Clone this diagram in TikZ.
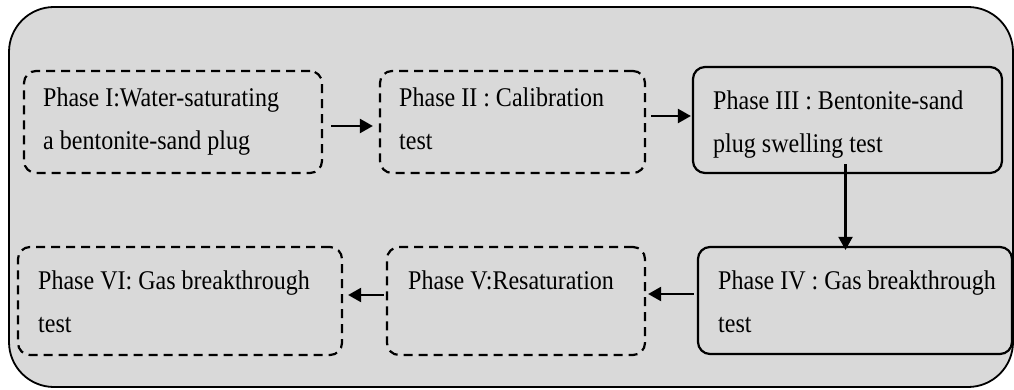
\documentclass[tikz,border=0pt]{standalone}
\usepackage{fontspec}
\setmainfont{Liberation Serif}
\newfontfamily\condserif[FakeStretch=0.89]{Liberation Serif}
\usetikzlibrary{arrows.meta}
\definecolor{bggray}{RGB}{217,217,217}
\tikzset{
  phasebox/.style={draw=black, line width=2.2pt, rounded corners=12pt, inner sep=0pt},
  dashbox/.style={phasebox, dash pattern=on 9pt off 6pt},
  phasetext/.style={anchor=north west, inner sep=0pt, align=left, font=\condserif\fontsize{27}{43}\selectfont, text=black},
  flow/.style={line width=2.2pt, -{Triangle[length=13pt,width=14pt]}}
}
\begin{document}
\begin{tikzpicture}[x=1pt,y=-1pt]
\useasboundingbox (0,0) rectangle (1014,390);
\draw[fill=bggray, line width=1.8pt, rounded corners=45pt] (9,7) rectangle (1013,387);
% boxes
\node[dashbox, minimum width=298pt, minimum height=102pt] (b1) at (173,122) {};
\node[dashbox, minimum width=265pt, minimum height=102pt] (b2) at (512.5,122) {};
\node[phasebox, minimum width=309pt, minimum height=106pt] (b3) at (847.5,120) {};
\node[phasebox, minimum width=314pt, minimum height=107pt] (b4) at (855,300.5) {};
\node[dashbox, minimum width=258pt, minimum height=108pt] (b5) at (516,301) {};
\node[dashbox, minimum width=324pt, minimum height=108pt] (b6) at (180,301) {};
% texts
\node[phasetext] (t1) at (43,88) {Phase I:Water-saturating\\a bentonite-sand plug};
\node[phasetext] (t2) at (399,88) {Phase II : Calibration\\test};
\node[phasetext] (t3) at (713,91) {Phase III : Bentonite-sand\\plug swelling test};
\node[phasetext] (t4) at (718,271) {Phase IV : Gas breakthrough\\test};
\node[phasetext] (t5) at (408,271) {Phase V:Resaturation};
\node[phasetext] (t6) at (38,271) {Phase VI: Gas breakthrough\\test};
% arrow anchors
\coordinate (a1) at ([xshift=8pt,yshift=-4pt]b1.east);
\coordinate (a2) at ([xshift=5pt,yshift=6pt]b2.east);
\coordinate (a3) at ([xshift=-2pt,yshift=10pt]b3.south);
\coordinate (a4) at ([xshift=-3pt,yshift=6.5pt]b4.west);
\coordinate (a5) at ([xshift=-2pt,yshift=6pt]b5.west);
% arrows
\draw[flow] (a1) -- ([xshift=-6pt]b2.west |- a1);
\draw[flow] (a2) -- ([xshift=-1pt]b3.west |- a2);
\draw[flow] (a3) -- ([yshift=-4pt]a3 |- b4.north);
\draw[flow] (a4) -- ([xshift=2pt]b5.east |- a4);
\draw[flow] (a5) -- ([xshift=5pt]b6.east |- a5);
\end{tikzpicture}
\end{document}
